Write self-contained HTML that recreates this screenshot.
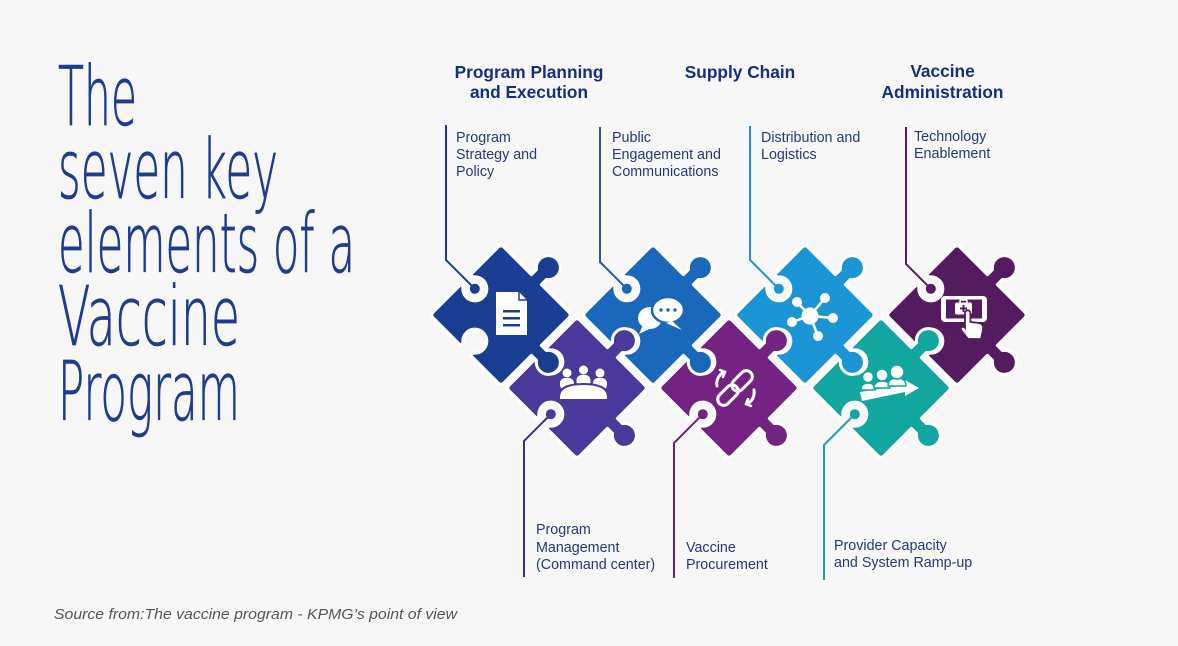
<!DOCTYPE html>
<html>
<head>
<meta charset="utf-8">
<style>
html,body{margin:0;padding:0;background:#f7f7f8;}
svg{display:block;}
</style>
</head>
<body>
<svg width="1178" height="646" viewBox="0 0 1178 646" xmlns="http://www.w3.org/2000/svg">
<rect width="1178" height="646" fill="#f7f7f8"/>
<defs>
<path id="pz" d="M-46,-50 L-7,-50 L-7,-57.25 A12,12 0 1 1 7,-57.25 L7,-50 L46,-50 Q50,-50 50,-46 L50,-7 L57.25,-7 A12,12 0 1 1 57.25,7 L50,7 L50,46 Q50,50 46,50 L7,50 L7,46.75 A12,12 0 1 0 -7,46.75 L-7,50 L-46,50 Q-50,50 -50,46 L-50,7 L-46.75,7 A12,12 0 1 0 -46.75,-7 L-50,-7 L-50,-46 Q-50,-50 -46,-50 Z"/>
</defs>

<!-- Title -->
<g font-family="'DejaVu Sans','Liberation Sans',sans-serif" font-weight="200" font-size="82" fill="#1e3d8f" stroke="#1e3d8f" stroke-width="0.8">
<text x="58" y="125" textLength="79" lengthAdjust="spacingAndGlyphs">The</text>
<text x="58" y="198" textLength="220" lengthAdjust="spacingAndGlyphs">seven key</text>
<text x="58" y="272" textLength="297" lengthAdjust="spacingAndGlyphs">elements of a</text>
<text x="58" y="345" textLength="182" lengthAdjust="spacingAndGlyphs">Vaccine</text>
<text x="58" y="420" textLength="182" lengthAdjust="spacingAndGlyphs">Program</text>
</g>

<!-- Headings -->
<g font-family="'Liberation Sans',Arial,sans-serif" font-weight="bold" font-size="17.3" fill="#12307f" text-anchor="middle">
<text x="529" y="78">Program Planning</text>
<text x="529" y="98">and Execution</text>
<text x="740" y="78">Supply Chain</text>
<text x="942.5" y="77">Vaccine</text>
<text x="942.5" y="98">Administration</text>
</g>

<!-- Sub labels -->
<g font-family="'Liberation Sans',Arial,sans-serif" font-size="14.3" fill="#24397a">
<text x="456" y="142">Program</text>
<text x="456" y="159">Strategy and</text>
<text x="456" y="176">Policy</text>
<text x="612" y="142">Public</text>
<text x="612" y="159">Engagement and</text>
<text x="612" y="176">Communications</text>
<text x="761" y="142">Distribution and</text>
<text x="761" y="159">Logistics</text>
<text x="914" y="141">Technology</text>
<text x="914" y="158">Enablement</text>
<text x="536" y="534">Program</text>
<text x="536" y="552">Management</text>
<text x="536" y="569">(Command center)</text>
<text x="686" y="552">Vaccine</text>
<text x="686" y="569">Procurement</text>
<text x="834" y="550">Provider Capacity</text>
<text x="834" y="567">and System Ramp-up</text>
</g>

<!-- Footer -->
<text x="54" y="619" font-family="'Liberation Sans',Arial,sans-serif" font-style="italic" font-size="15" fill="#555" textLength="403" lengthAdjust="spacingAndGlyphs">Source from:The vaccine program - KPMG’s point of view</text>

<!-- Puzzle pieces (draw order for interlocking) -->
<g stroke="#ffffff" stroke-width="3" stroke-linejoin="round">
<use href="#pz" transform="translate(957,315) rotate(45)" fill="#541b60"/>
<use href="#pz" transform="translate(881,388) rotate(45)" fill="#11a69e"/>
<use href="#pz" transform="translate(805,315) rotate(45)" fill="#1b95d6"/>
<use href="#pz" transform="translate(729,388) rotate(45)" fill="#752383"/>
<use href="#pz" transform="translate(653,315) rotate(45)" fill="#1a68bc"/>
<use href="#pz" transform="translate(577,388) rotate(45)" fill="#4a389a"/>
<use href="#pz" transform="translate(501,315) rotate(45)" fill="#1b3d91"/>
</g>

<!-- Connectors -->
<g fill="none" stroke-width="2">
<polyline points="446,125 446,260 474.8,288.8" stroke="#1b3d91"/>
<polyline points="600,127 600,262 626.8,288.8" stroke="#1d59a8"/>
<polyline points="750,126 750,260 778.8,288.8" stroke="#1b95d6"/>
<polyline points="906,127 906,264 930.8,288.8" stroke="#541b60"/>
<polyline points="524,577 524,441 550.8,414.2" stroke="#3d2f8e"/>
<polyline points="674,578 674,443 702.8,414.2" stroke="#6c2079"/>
<polyline points="824,580 824,445 854.8,414.2" stroke="#11a69e"/>
</g>
<g>
<circle cx="474.8" cy="288.8" r="5" fill="#1b3d91"/>
<circle cx="626.8" cy="288.8" r="5" fill="#1a68bc"/>
<circle cx="778.8" cy="288.8" r="5" fill="#1b95d6"/>
<circle cx="930.8" cy="288.8" r="5" fill="#541b60"/>
<circle cx="550.8" cy="414.2" r="5" fill="#4a389a"/>
<circle cx="702.8" cy="414.2" r="5" fill="#752383"/>
<circle cx="854.8" cy="414.2" r="5" fill="#11a69e"/>
</g>

<!-- Icon P1: document -->
<g>
<path d="M496,292 L519,292 L527,300 L527,335 L496,335 Z" fill="#fff"/>
<path d="M519,292 L519,300 L527,300" fill="none" stroke="#1b3d91" stroke-width="1.5"/>
<rect x="503" y="310" width="17" height="2.5" fill="#1b3d91"/>
<rect x="503" y="317" width="17" height="2.5" fill="#1b3d91"/>
<rect x="503" y="324" width="17" height="2.5" fill="#1b3d91"/>
</g>

<!-- Icon P2: chat bubbles -->
<g>
<ellipse cx="650" cy="318" rx="12" ry="11" fill="#fff"/>
<polygon points="643,325 639,334 651,328" fill="#fff"/>
<ellipse cx="668" cy="310" rx="16" ry="13" fill="#fff" stroke="#1a68bc" stroke-width="2.5"/>
<polygon points="672,321 682,330 666,323" fill="#fff"/>
<circle cx="661" cy="310" r="1.7" fill="#1a68bc"/>
<circle cx="668" cy="310" r="1.7" fill="#1a68bc"/>
<circle cx="675" cy="310" r="1.7" fill="#1a68bc"/>
</g>

<!-- Icon P5: meeting -->
<g fill="#fff">
<circle cx="567" cy="373" r="4.5"/>
<circle cx="583.5" cy="370" r="4.5"/>
<circle cx="600" cy="373" r="4.5"/>
<rect x="560" y="378" width="14" height="12" rx="5"/>
<rect x="576.5" y="375" width="14" height="12" rx="5"/>
<rect x="593" y="378" width="14" height="12" rx="5"/>
<path d="M559,400 L559,397 Q559,384 583.5,384 Q608,384 608,397 L608,400 Z" stroke="#4a389a" stroke-width="2"/>
</g>

<!-- Icon P6: chain -->
<g fill="none" stroke="#fff" stroke-width="3" stroke-linecap="round">
<g transform="translate(735,388) rotate(-45)">
<rect x="-22" y="-6" width="24" height="12" rx="6"/>
<rect x="-2" y="-6" width="24" height="12" rx="6"/>
</g>
<path d="M717,386 A13,13 0 0 1 724,372"/>
<path d="M720,370 L725,372 L723,377" stroke-width="2.5"/>
<path d="M754,390 A13,13 0 0 1 747,404"/>
<path d="M751,406 L746,404 L748,399" stroke-width="2.5"/>
</g>

<!-- Icon P3: network -->
<g stroke="#fff" stroke-width="2.5" fill="#fff">
<line x1="810" y1="316" x2="797" y2="302"/>
<line x1="810" y1="316" x2="825" y2="298"/>
<line x1="810" y1="316" x2="833" y2="318"/>
<line x1="810" y1="316" x2="818" y2="336"/>
<line x1="810" y1="316" x2="792" y2="322"/>
<circle cx="810" cy="316" r="8.5" stroke="none"/>
<circle cx="797" cy="302" r="5" stroke="none"/>
<circle cx="825" cy="298" r="5" stroke="none"/>
<circle cx="833" cy="318" r="5" stroke="none"/>
<circle cx="818" cy="336" r="5" stroke="none"/>
<circle cx="792" cy="322" r="5" stroke="none"/>
</g>

<!-- Icon P4: tablet with hand -->
<g>
<rect x="941" y="296" width="46" height="26" rx="4" fill="#fff"/>
<rect x="946" y="299.5" width="36" height="19" fill="#541b60"/>
<rect x="955" y="302.5" width="17" height="12" rx="2" fill="#fff"/>
<rect x="960" y="300" width="7" height="4" rx="1" fill="none" stroke="#fff" stroke-width="1.5"/>
<rect x="962.5" y="305" width="2" height="7" fill="#541b60"/>
<rect x="960" y="307.5" width="7" height="2" fill="#541b60"/>
<path d="M965,313 A2.7,2.7 0 0 1 970.4,313 L970.4,322 L979,323 Q984,324 983,330 L981,339 L968,339 L961,330 Q960,326 964,327 L965,328 Z" fill="#fff" stroke="#541b60" stroke-width="1.8"/>
</g>

<!-- Icon P7: people with arrow -->
<g fill="#fff">
<polygon points="860,392 905,385 905,380 919,388 905,396 905,392 862,401"/>
<path d="M861,390 Q861,383 868,383 Q875,383 875,390 Z" stroke="#11a69e" stroke-width="1.5"/>
<path d="M874,388 Q874,381 882,381 Q890,381 890,388 Z" stroke="#11a69e" stroke-width="1.5"/>
<path d="M888,386 Q888,378 897,378 Q906,378 906,386 Z" stroke="#11a69e" stroke-width="1.5"/>
<circle cx="868" cy="377" r="5.5" stroke="#11a69e" stroke-width="1.5"/>
<circle cx="882" cy="375" r="6" stroke="#11a69e" stroke-width="1.5"/>
<circle cx="897" cy="372" r="7" stroke="#11a69e" stroke-width="1.5"/>
</g>
</svg>
</body>
</html>
